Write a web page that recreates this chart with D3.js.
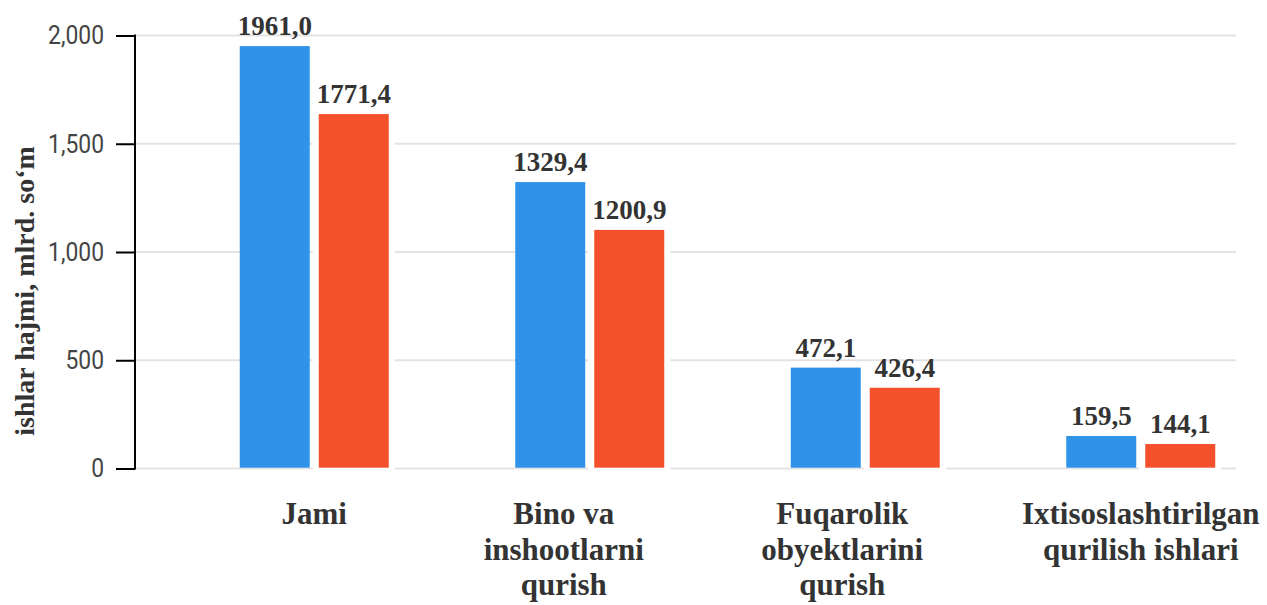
<!DOCTYPE html>
<html>
<head>
<meta charset="utf-8">
<script src="https://cdn.jsdelivr.net/npm/d3@7"></script>
<style>
  body { margin: 0; background: #fff; }
  svg { display: block; }
</style>
</head>
<body>
<svg class="chart" width="1267" height="605"></svg>
<script>
// Chart data
const categories = ["Jami", "Bino va inshootlarni qurish", "Fuqarolik obyektlarini qurish", "Ixtisoslashtirilgan qurilish ishlari"];
const categoryLines = [["Jami"], ["Bino va", "inshootlarni", "qurish"], ["Fuqarolik", "obyektlarini", "qurish"], ["Ixtisoslashtirilgan", "qurilish ishlari"]];
const blueValues = [1951, 1323, 466, 150];
const redValues = [1637, 1102, 373, 113];
const blueLabels = ["1961,0", "1329,4", "472,1", "159,5"];
const redLabels = ["1771,4", "1200,9", "426,4", "144,1"];
const redLabelValues = [1771.4, 1200.9, 426.4, 144.1];
const yTicks = [0, 500, 1000, 1500, 2000];
const yTitle = "ishlar hajmi, mlrd. so‘m";

const svg = d3.select(".chart");

// Layout
const axisX = 135, gridEnd = 1236;
const labelShift = [0, -26, -23, 0];

const y = d3.scaleLinear().domain([0, 2000]).range([468.5, 35.5]);

const x0 = d3.scaleBand()
    .domain(categories)
    .range([176.5, 1278.5]);

const x1 = d3.scaleBand()
    .domain(["blue", "red"])
    .range([-74.5, 74.5])
    .paddingInner(9 / 79);

const center = c => x0(c) + x0.bandwidth() / 2;

// Gridlines
svg.append("g")
    .selectAll("line")
    .data(yTicks)
    .enter().append("line")
    .attr("x1", axisX + 1)
    .attr("x2", gridEnd)
    .attr("y1", d => y(d))
    .attr("y2", d => y(d))
    .attr("stroke", "#e3e3e3")
    .attr("stroke-width", 2);

// White backing behind red bars (hides gridlines up to the label value)
svg.append("g")
    .selectAll("rect")
    .data(categories)
    .enter().append("rect")
    .attr("x", c => center(c) + x1("red") - 6)
    .attr("width", x1.bandwidth() + 12)
    .attr("y", (c, i) => y(redLabelValues[i]))
    .attr("height", (c, i) => y(0) - y(redLabelValues[i]) + 2)
    .attr("fill", "#fff");

// Bars
const groups = svg.append("g")
    .selectAll("g")
    .data(categories)
    .enter().append("g")
    .attr("transform", c => `translate(${center(c)},0)`);

groups.append("rect")
    .attr("x", x1("blue"))
    .attr("width", x1.bandwidth())
    .attr("y", (c, i) => y(blueValues[i]))
    .attr("height", (c, i) => y(0) - 0.8 - y(blueValues[i]))
    .attr("fill", "#2f93ea");

groups.append("rect")
    .attr("x", x1("red"))
    .attr("width", x1.bandwidth())
    .attr("y", (c, i) => y(redValues[i]))
    .attr("height", (c, i) => y(0) - 0.8 - y(redValues[i]))
    .attr("fill", "#f5502c");

// Value labels
const labelFont = "'Liberation Serif', 'Times New Roman', serif";

groups.append("text")
    .attr("x", x1("blue") + x1.bandwidth() / 2)
    .attr("y", (c, i) => y(blueValues[i]) - 11)
    .attr("text-anchor", "middle")
    .attr("font-family", labelFont)
    .attr("font-weight", "bold")
    .attr("font-size", 27)
    .attr("fill", "#333")
    .text((c, i) => blueLabels[i]);

groups.append("text")
    .attr("x", x1("red") + x1.bandwidth() / 2)
    .attr("y", (c, i) => y(redValues[i]) - 11)
    .attr("text-anchor", "middle")
    .attr("font-family", labelFont)
    .attr("font-weight", "bold")
    .attr("font-size", 27)
    .attr("fill", "#333")
    .text((c, i) => redLabels[i]);

// Y axis
const squeeze = 0.88;
const yAxis = svg.append("g")
    .attr("transform", `translate(${axisX},0)`)
    .call(d3.axisLeft(y).tickValues(yTicks).tickSize(19).tickPadding(12).tickFormat(d3.format(",")));

yAxis.select(".domain").attr("stroke", "#000").attr("stroke-width", 2)
    .attr("d", `M0,${y(0) + 1}V${y(2000) - 1}`);
yAxis.selectAll(".tick line").attr("stroke", "#000").attr("stroke-width", 2);
yAxis.selectAll(".tick text")
    .attr("font-family", "Roboto, sans-serif")
    .attr("font-size", 26)
    .attr("fill", "#444")
    .attr("x", -31 / squeeze)
    .attr("transform", `scale(${squeeze},1)`);

// Y title
svg.append("text")
    .attr("transform", "translate(34,291) rotate(-90)")
    .attr("text-anchor", "middle")
    .attr("font-family", labelFont)
    .attr("font-weight", "bold")
    .attr("font-size", 28)
    .attr("fill", "#333")
    .text(yTitle);

// Category labels
const catText = svg.append("g")
    .selectAll("text")
    .data(categories)
    .enter().append("text")
    .attr("text-anchor", "middle")
    .attr("font-family", labelFont)
    .attr("font-weight", "bold")
    .attr("font-size", 31)
    .attr("fill", "#333");

catText.selectAll("tspan")
    .data((c, i) => categoryLines[i].map(l => ({ line: l, x: center(c) + labelShift[i] })))
    .enter().append("tspan")
    .attr("x", d => d.x)
    .attr("y", (d, j) => 524 + j * 35.5)
    .text(d => d.line);
</script>
</body>
</html>
